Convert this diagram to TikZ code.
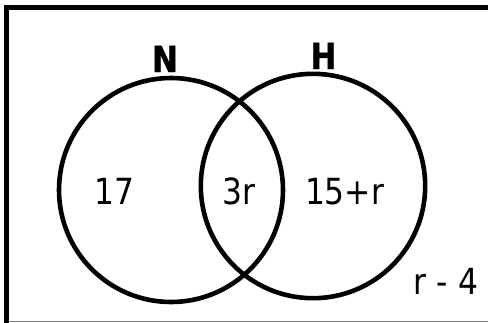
\documentclass[tikz,border=0pt]{standalone}
\usepackage{fontspec}
\setmainfont{DejaVu Sans}[FakeStretch=0.87,BoldFeatures={FakeStretch=0.87,FakeBold=1.2}]
\begin{document}
\begin{tikzpicture}[x=1pt,y=-1pt,
  lbl/.style={inner sep=0pt,anchor=base,font=\fontsize{36}{40}\selectfont},
  setlbl/.style={lbl,font=\fontsize{36}{40}\selectfont\bfseries},
  setcircle/.style={line width=4.6pt,draw=black}]
\useasboundingbox (0,0) rectangle (488,322);
% frame
\draw[line width=4.5pt] (6.5,324) -- (6.5,7.5) -- (492,7.5);
\draw[line width=1pt,gray] (9,321) -- (488,321);
% circles
\draw[setcircle] (171,190) circle[radius=112];
\draw[setcircle] (313,186) circle[radius=112.2];
% labels
\node[setlbl] (N) at (165,72) {N};
\node[setlbl] (H) at (323.5,69) {H};
\node[lbl] (a) at (114.5,204) {17};
\node[lbl] (b) at (238.5,204) {3r};
\node[lbl] (c) at (344.5,204) {15+r};
\node[lbl] (d) at (446,294) {r - 4};
\end{tikzpicture}
\end{document}
